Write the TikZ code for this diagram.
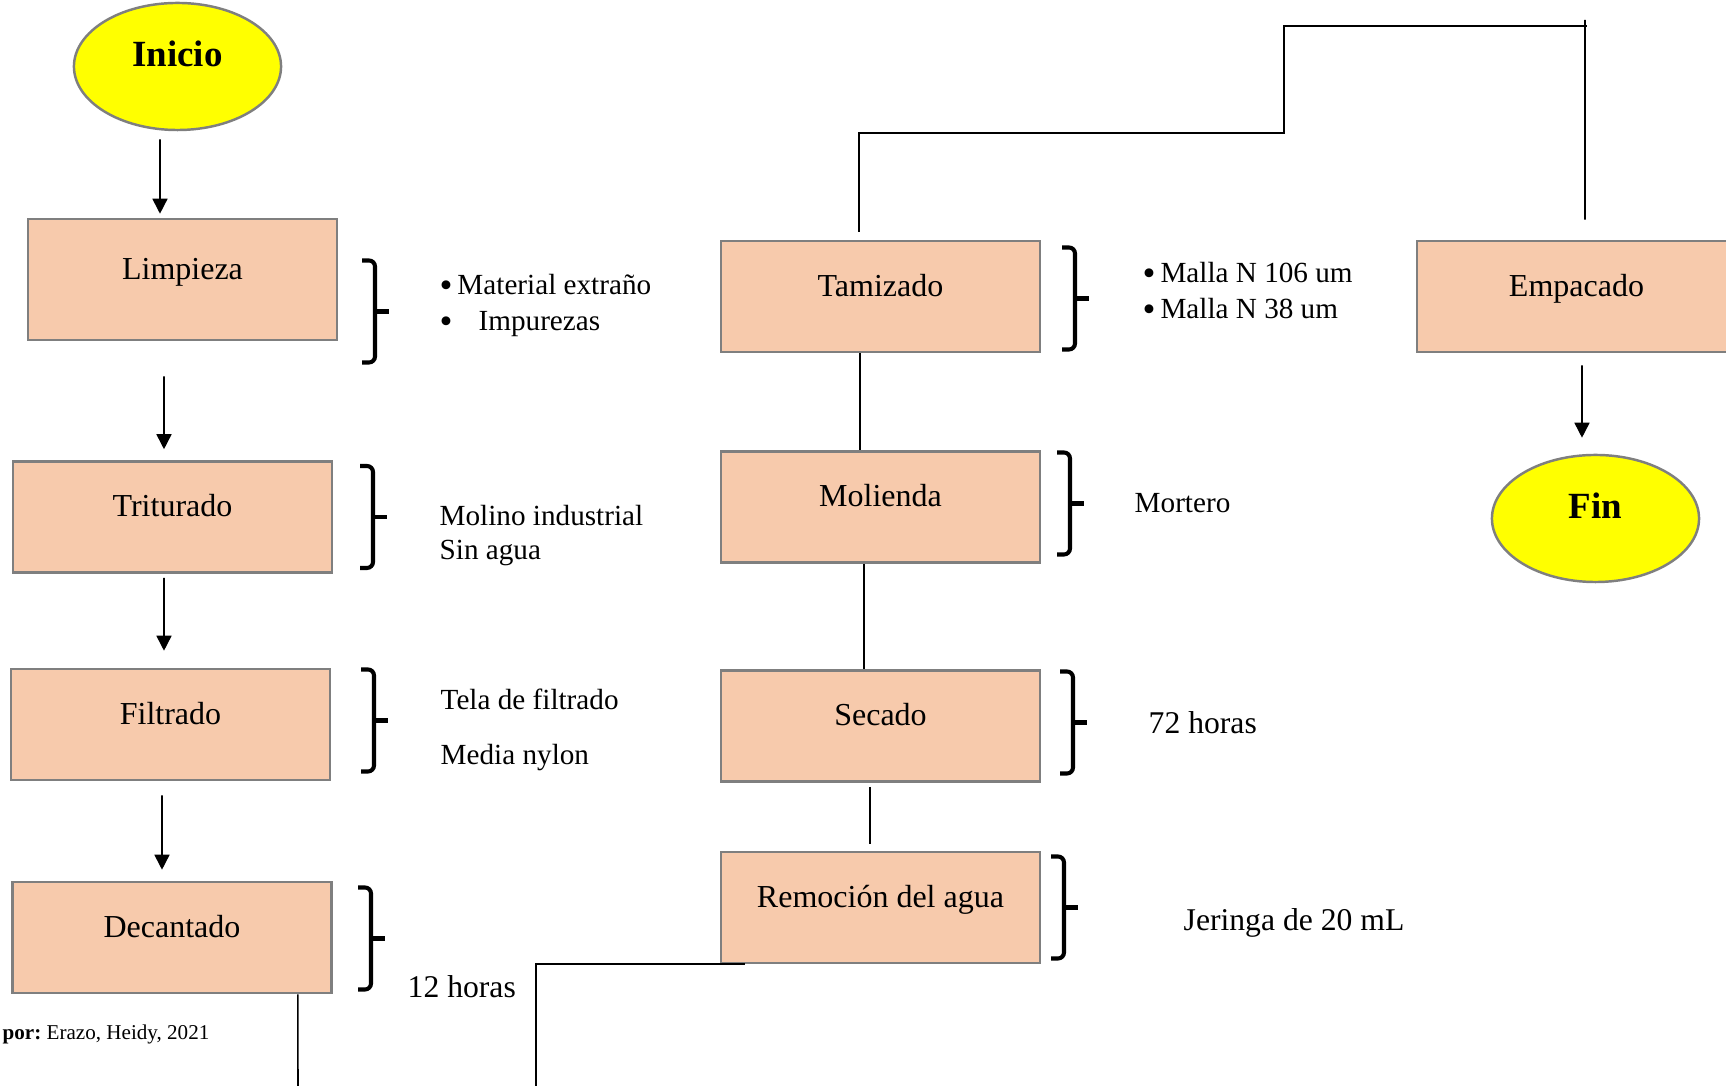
\documentclass[tikz,border=0pt]{standalone}
\usepackage{fontspec}
\setmainfont{Liberation Serif}
\usetikzlibrary{arrows.meta,shapes.geometric}
\definecolor{durazno}{HTML}{F7CAAC}
\definecolor{borde}{HTML}{7F7F7F}
\definecolor{amarillo}{HTML}{FFFF00}
\newcommand{\vineta}{\raisebox{-0.7pt}{\fontsize{10.5}{10}\selectfont •}}

\begin{document}
\begin{tikzpicture}[x=0.01cm, y=-0.01cm,
		caja/.style={draw=borde, line width=0.7pt, fill=durazno, minimum width=3.19cm, minimum height=1.11cm, text height=0.2cm, text depth=0.2cm, font=\fontsize{9.1}{11}\selectfont},
		elipse/.style={ellipse, draw=borde, line width=0.7pt, fill=amarillo, minimum width=2.07cm, minimum height=1.27cm, text height=0.2cm, text depth=0.2cm, font=\bfseries\fontsize{10.5}{12}\selectfont},
		texto/.style={anchor=base west, inner sep=0pt, font=\fontsize{8.3}{10}\selectfont},
		flecha/.style={-{Triangle[width=0.15cm,length=0.15cm]}, line width=0.45pt},
		linea/.style={line width=0.45pt},
		llave/.pic={
			\draw[line width=1.15pt, rounded corners=0.06cm] (-13,-51) -| (0,51) -- (-13,51);
			\draw[line width=1.15pt] (0,0) -- (14,0);
		}]
		\useasboundingbox (0,0) rectangle (1726,1086);

		\node (ini) [elipse] at (177.5,66.5) {Inicio};
		\node (limp) [caja, minimum width=3.09cm, minimum height=1.21cm] at (182.5,279.5) {Limpieza};
		\node (trit) [caja] at (172.5,517) {Triturado};
		\node (filt) [caja] at (170.5,724.5) {Filtrado};
		\node (dec) [caja] at (172,937.5) {Decantado};
		\node (tam) [caja] at (880.5,296.5) {Tamizado};
		\node (mol) [caja] at (880.5,507) {Molienda};
		\node (sec) [caja] at (880.5,726) {Secado};
		\node (rem) [caja] at (880.5,907.5) {Remoción del agua};
		\node (emp) [caja] at (1576.5,296.5) {Empacado};
		\node (fin) [elipse] at (1595.5,518.5) {Fin};

		\pic at (375,311.5) {llave};
		\pic at (373,517) {llave};
		\pic at (374,720.5) {llave};
		\pic at (371,938.5) {llave};
		\pic at (1075,298.5) {llave};
		\pic at (1070,503.5) {llave};
		\pic at (1073,722.5) {llave};
		\pic at (1064,907.5) {llave};

		\node (t1) [texto] at (439,295) {\vineta\,Material extraño};
		\node (t2) [texto] at (439,331) {\vineta\hspace{0.26cm}Impurezas};
		\node (t3) [texto] at (439,526) {Molino industrial};
		\node (t4) [texto] at (439,560) {Sin agua};
		\node (t5) [texto] at (440,710) {Tela de filtrado};
		\node (t6) [texto] at (440,765) {Media nylon};
		\node (t7) [texto, font=\fontsize{9}{11}\selectfont] at (407,998) {12 horas};
		\node (t8) [texto] at (1142,283) {\vineta\,Malla N 106 um};
		\node (t9) [texto] at (1142,319) {\vineta\,Malla N 38 um};
		\node (t10) [texto] at (1134,513) {Mortero};
		\node (t11) [texto, font=\fontsize{9}{11}\selectfont] at (1148,734) {72 horas};
		\node (t12) [texto, font=\fontsize{9}{11}\selectfont] at (1183,931) {Jeringa de 20 mL};
		\node (fuente) [texto, font=\fontsize{6}{7}\selectfont] at (2,1040) {\textbf{por:}~Erazo, Heidy, 2021};

		\path[flecha]
		  ([xshift=-0.175cm,yshift=-0.08cm]ini.south) edge ([xshift=-0.225cm,yshift=0.04cm]limp.north)
		  ([xshift=-0.185cm,yshift=-0.35cm]limp.south) edge ([xshift=-0.085cm,yshift=0.11cm]trit.north)
		  ([xshift=-0.085cm,yshift=-0.04cm]trit.south) edge ([xshift=-0.065cm,yshift=0.17cm]filt.north)
		  ([xshift=-0.085cm,yshift=-0.14cm]filt.south) edge ([xshift=-0.1cm,yshift=0.11cm]dec.north)
		  ([xshift=0.055cm,yshift=-0.12cm]emp.south) edge ([xshift=-0.135cm,yshift=0.16cm]fin.north);

		\coordinate (codo) at (1284,133);
		\coordinate (esq) at (1587,26);
		\coordinate (tope) at (1585,20);
		\coordinate (bajo1) at (298,1090);
		\coordinate (bajo2) at (536,1090);

		\path[linea]
		  ([xshift=-0.205cm]tam.south) edge ([xshift=-0.205cm]mol.north)
		  ([xshift=-0.165cm]mol.south) edge ([xshift=-0.165cm]sec.north)
		  ([xshift=-0.105cm,yshift=-0.04cm]sec.south) edge ([xshift=-0.105cm,yshift=0.07cm]rem.north)
		  ([xshift=0.085cm,yshift=0.2cm]emp.north) edge (tope)
		  ([xshift=-0.35cm]dec.south east) edge (bajo1);
		\draw[linea] ([xshift=-0.215cm,yshift=0.08cm]tam.north) |- (codo) |- (esq);
		\draw[linea] ([xshift=0.25cm]rem.south west) -| (bajo2);
	       \end{tikzpicture}
\end{document}
